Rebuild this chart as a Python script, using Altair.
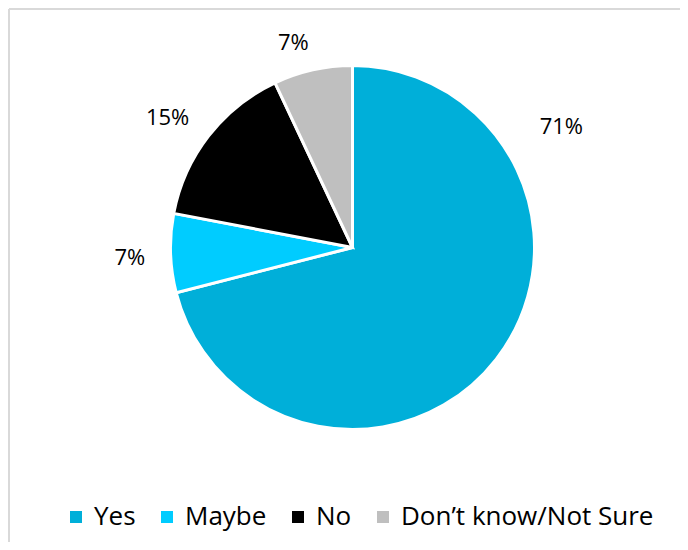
import math
import altair as alt
import pandas as pd

categories = ["Yes", "Maybe", "No", "Don\u2019t know/Not Sure"]
values = [71, 7, 15, 7]
labels = ["71%", "7%", "15%", "7%"]
colors = ["#00AFD9", "#00CCFF", "#000000", "#BFBFBF"]

# label placement (layout, not data): fraction along slice and distance from centre
label_anchor = [0.235, 0.46, 0.45, 0.36]
label_radius = [241, 223, 226, 213]

total = sum(values)
rows = []
start = 0.0
for i, (c, v, lab) in enumerate(zip(categories, values, labels)):
    span = v / total * 2 * math.pi
    rows.append({"cat": c, "value": v, "label": lab, "order": i,
                 "label_theta": start + label_anchor[i] * span,
                 "label_r": label_radius[i]})
    start += span
df = pd.DataFrame(rows)

PAD = 2
W, H = 672 - PAD, 534 - PAD
CX, CY = 344.5 - PAD, 239.5 - PAD

base = alt.Chart(df)

pie = base.mark_arc(outerRadius=182, stroke="white", strokeWidth=3).encode(
    theta=alt.Theta("value:Q", stack=True),
    order=alt.Order("order:Q"),
    color=alt.Color(
        "cat:N",
        scale=alt.Scale(domain=categories, range=colors),
        sort=categories,
        legend=alt.Legend(
            title=None, orient="none", direction="horizontal",
            legendX=55 - PAD, legendY=496 - PAD, symbolType="square",
            symbolSize=144, symbolStrokeWidth=0, labelFontSize=26,
            labelFont="Open Sans", labelColor="#000000", columnPadding=18,
            symbolOffset=0, labelOffset=5, labelLimit=0,
        ),
    ),
    x=alt.value(CX),
    y=alt.value(CY),
)

text = base.mark_text(fontSize=22, font="Open Sans", color="#000000").encode(
    theta=alt.Theta("label_theta:Q", scale=None),
    radius=alt.Radius("label_r:Q", scale=None),
    text="label:N",
    x=alt.value(CX),
    y=alt.value(CY),
)

border_top = base.mark_rule(color="#D9D9D9", strokeWidth=1.5).encode(
    x=alt.value(-1), x2=alt.value(W + 8), y=alt.value(-1)
)
border_left = base.mark_rule(color="#D9D9D9", strokeWidth=1.5).encode(
    x=alt.value(-1), y=alt.value(-1), y2=alt.value(H + 8)
)

chart = alt.layer(border_top, border_left, pie, text).properties(
    width=W, height=H, autosize="none", background="white",
    padding={"left": PAD, "top": PAD, "right": 0, "bottom": 0},
).configure_view(stroke=None)

chart.save("out.html", embed_options={"renderer": "svg", "actions": False})
